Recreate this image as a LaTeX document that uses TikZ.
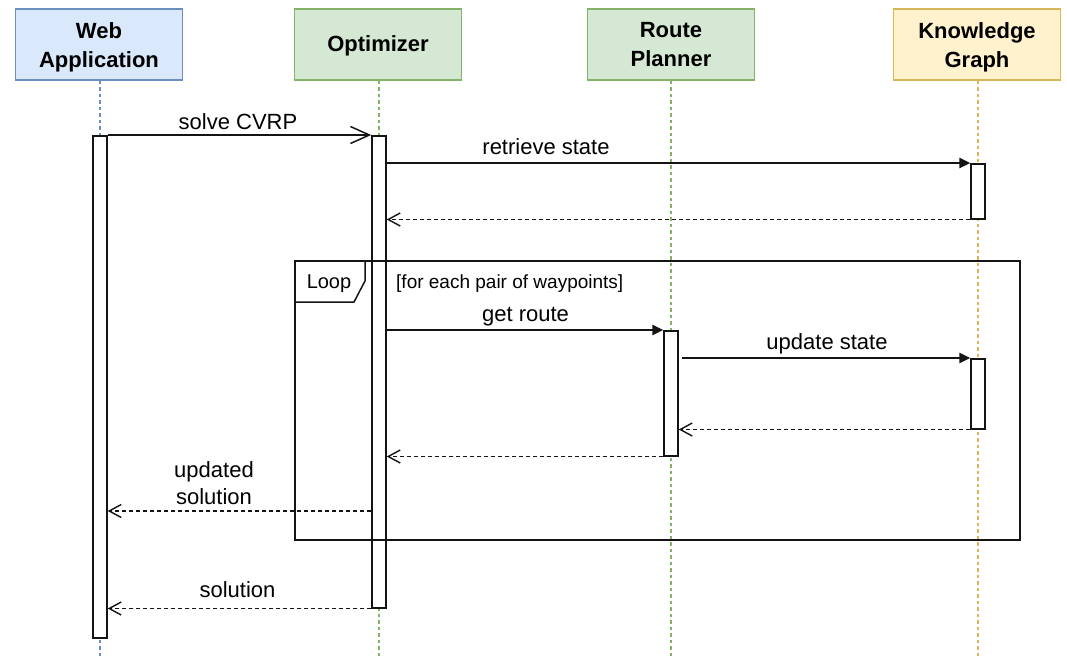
\documentclass[tikz,border=0pt]{standalone}
\usepackage{fontspec}
\setmainfont{Liberation Sans}
\usetikzlibrary{arrows.meta,calc}

\definecolor{webfill}{HTML}{DAE8FC}
\definecolor{webline}{HTML}{6C8EBF}
\definecolor{grnfill}{HTML}{D5E8D4}
\definecolor{grnline}{HTML}{82B366}
\definecolor{kgfill}{HTML}{FFF2CC}
\definecolor{kgline}{HTML}{D6B656}
\definecolor{ink}{HTML}{141414}

\begin{document}
\begin{tikzpicture}[x=1pt,y=-1pt,
  hdrbox/.style={draw, line width=1.5pt, minimum width=167pt, minimum height=71pt, inner sep=0pt},
  hdrtxt/.style={font=\fontsize{22}{29}\selectfont\bfseries, align=center, inner sep=0pt},
  lifeline/.style={line width=1.2pt, dash pattern=on 3.5pt off 3pt},
  actbar/.style={draw=ink, line width=1.5pt, fill=white, minimum width=14pt, inner sep=0pt, anchor=north},
  call/.style={draw=ink, line width=1.5pt, -{Triangle[length=11pt,width=10.5pt]}},
  async/.style={draw=ink, line width=1.5pt, -{Straight Barb[length=19pt,width=17pt]}},
  reply/.style={draw=ink, line width=1.7pt, dash pattern=on 4pt off 3pt, -{Straight Barb[length=12pt,width=13pt,line width=1.4pt]}},
  msgtxt/.style={font=\fontsize{22}{29}\selectfont, inner sep=0pt, anchor=base},
  frametxt/.style={font=\fontsize{20}{24}\selectfont, inner sep=0pt, anchor=base},
  condtxt/.style={font=\fontsize{19}{23}\selectfont, inner sep=0pt, anchor=base west},
]
\useasboundingbox (0,0) rectangle (1067,659);
\fill[white] (0,0) rectangle (1067,659);

% participants
\node[hdrbox, draw=webline, fill=webfill] (web) at (99,44.5) {};
\node[hdrbox, draw=grnline, fill=grnfill] (opt) at (378,44.5) {};
\node[hdrbox, draw=grnline, fill=grnfill] (rp)  at (671,44.5) {};
\node[hdrbox, draw=kgline, fill=kgfill]  (kg)  at (977,44.5) {};

\node[hdrtxt] at (99,46.9) {Web\\Application};
\node[hdrtxt, anchor=base] at (378,51) {Optimizer};
\node[hdrtxt] at (671,46.9) {Route\\Planner\vphantom{p}};
\node[hdrtxt] at (977,46.9) {Knowledge\\Graph};

% lifelines
\coordinate (webend) at (100,659);
\coordinate (optend) at (379,659);
\coordinate (rpend)  at (671,659);
\coordinate (kgend)  at (978,659);
\draw[lifeline, webline] (web.south -| webend) -- (webend);
\draw[lifeline, grnline] (opt.south -| optend) -- (optend);
\draw[lifeline, grnline] (rp.south -| rpend) -- (rpend);
\draw[lifeline, kgline]  (kg.south -| kgend) -- (kgend);

% activation bars
\node[actbar, minimum height=502pt] (webbar) at (100,135) {};
\node[actbar, minimum height=472pt] (optbar) at (379,135) {};
\node[actbar, minimum height=55pt]  (kgbar1) at (978,163) {};
\node[actbar, minimum height=125pt] (rpbar)  at (671,330) {};
\node[actbar, minimum height=70pt]  (kgbar2) at (978,358) {};

% loop fragment
\node[draw=ink, line width=1.5pt, minimum width=725pt, minimum height=279pt,
      inner sep=0pt, anchor=north west] (loop) at (294,260) {};
\draw[ink, line width=1.5pt] (loop.north west) ++(0,42) -- ++(60,0) -- ++(11,-21) -- ++(0,-21);
\node[frametxt] at (329,288) {Loop};
\node[condtxt] at (396,288) {[for each pair of waypoints]};

% messages
\draw[async] (webbar.north east) -- (optbar.north west);
\node[msgtxt] at (238,129) {solve CVRP};

\draw[call] (optbar.east |- kgbar1.north) -- (kgbar1.north west);
\node[msgtxt] at (546,154) {retrieve state};
\draw[reply] (kgbar1.south west) -- (optbar.east |- kgbar1.south);

\draw[call] (optbar.east |- rpbar.north) -- (rpbar.north west);
\node[msgtxt] at (525.5,321) {get route};

\draw[call] ($(rpbar.east |- kgbar2.north)+(3,0)$) -- (kgbar2.north west);
\node[msgtxt] at (827,349) {update state};
\draw[reply] (kgbar2.south west) -- (rpbar.east |- kgbar2.south);

\draw[reply] (rpbar.south west) -- (optbar.east |- rpbar.south);

\coordinate (upd) at (240,511);
\draw[reply] (optbar.west |- upd) -- (webbar.east |- upd);
\node[font=\fontsize{22}{27}\selectfont, align=center, inner sep=0pt, anchor=south] at (214,504.5) {updated\\solution};

\draw[reply] (optbar.south west) -- (webbar.east |- optbar.south);
\node[msgtxt] at (237.5,597.5) {solution};
\end{tikzpicture}
\end{document}
